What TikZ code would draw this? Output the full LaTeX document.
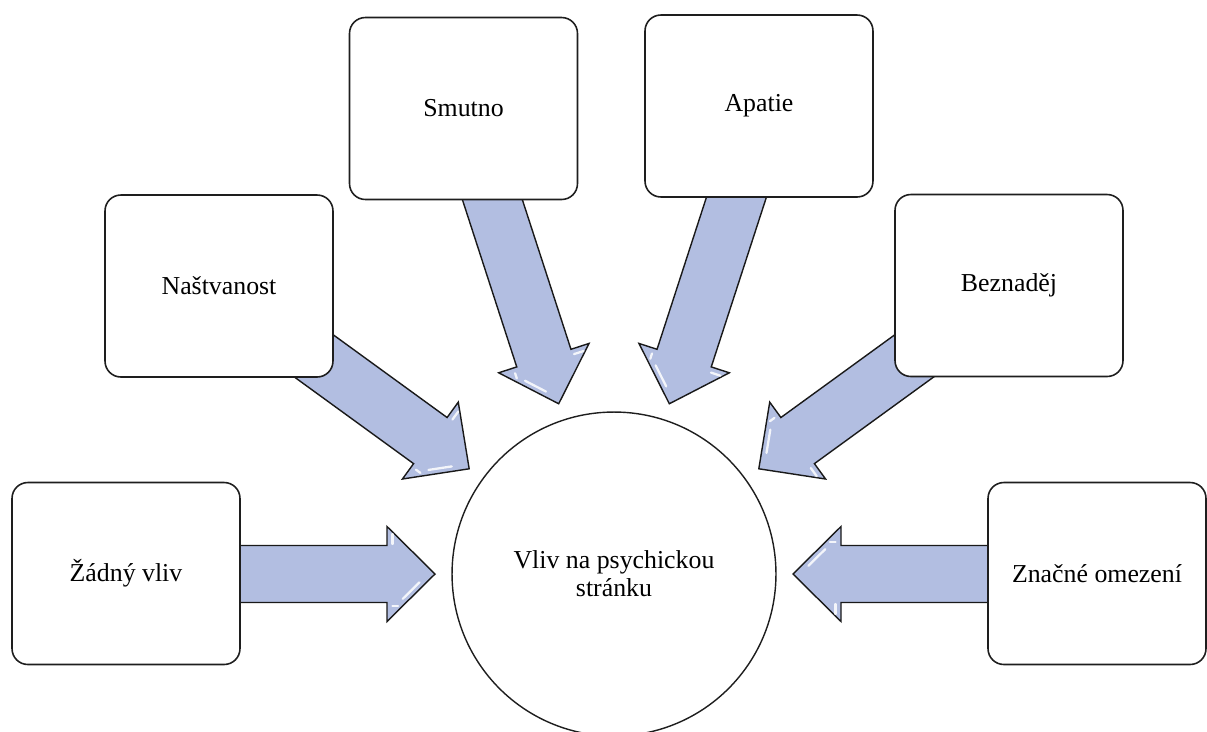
\documentclass[tikz,border=0pt]{standalone}
\usepackage{fontspec}
\setmainfont{Liberation Serif}
\definecolor{arrowfill}{RGB}{178,190,225}
\definecolor{boxline}{RGB}{30,30,30}
\newcommand{\blockarr}[1]{%
  \begin{scope}[shift={(c.center)}, rotate=#1]
    \filldraw[arrowsty] (179,0) -- (227,47.5) -- (227,28.5) -- (420,28.5) -- (420,-28.5) -- (227,-28.5) -- (227,-47.5) -- cycle;
    \draw[glint] (194.5,-8.3) -- (211.3,-24.9);
    \draw[glint] (221.5,30) -- (221.5,40);
    \draw[glint] (221.5,-32) -- (216,-32);
  \end{scope}}
\tikzset{
  box/.style={draw=boxline, line width=0.9pt, rounded corners=9pt, fill=white,
    minimum width=4.56cm, minimum height=3.64cm, inner sep=0pt,
    font=\fontsize{14.7}{15.8}\selectfont},
  hub/.style={circle, draw=boxline, line width=0.8pt, fill=white, minimum size=6.48cm,
    inner sep=0pt, align=center, font=\fontsize{14.7}{15.8}\selectfont},
  arrowsty/.style={fill=arrowfill, draw=black!90, line width=0.8pt, line join=miter},
  glint/.style={draw=white, line width=1.3pt, opacity=0.85, line cap=round}
}
\begin{document}
\begin{tikzpicture}[x=0.02cm, y=-0.02cm]
  \useasboundingbox (0,0) rectangle (1207,731);
  \clip (0,0) rectangle (1207,731);
  \node[hub] (c) at (614,574) {Vliv na psychickou\\stránku};
  \blockarr{180}
  \blockarr{144}
  \blockarr{108}
  \blockarr{72}
  \blockarr{36}
  \blockarr{0}
  \node[box] (zadny) at (126,573.5) {Žádný vliv};
  \node[box] (nastv) at (219,286) {Naštvanost};
  \node[box] (smutno) at (463.5,108.5) {Smutno};
  \node[box] (apatie) at (759,106) {Apatie};
  \node[box] (bezn) at (1009,285.5) {Beznaděj};
  \node[box, minimum width=4.36cm] (znacne) at (1097,573.5) {Značné omezení};
\end{tikzpicture}
\end{document}
